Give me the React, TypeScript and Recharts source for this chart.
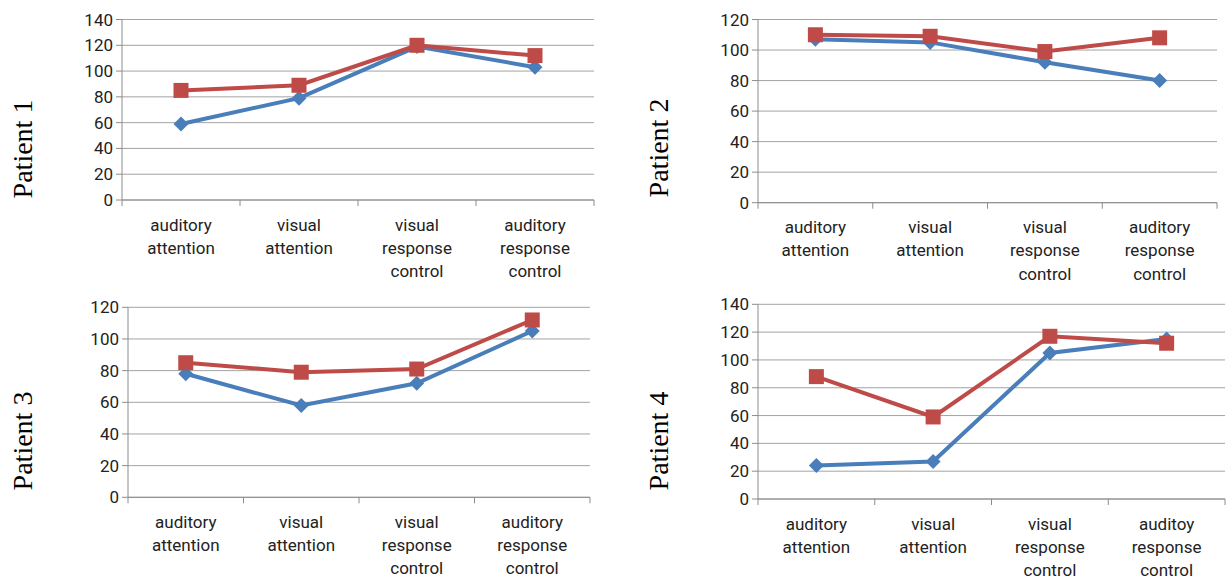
import React from 'react';
import { LineChart, Line, XAxis, YAxis, CartesianGrid } from 'recharts';

const categories = ['auditory attention', 'visual attention', 'visual response control', 'auditory response control'];
// the fourth panel has the typo from the original figure
const categoriesP4 = ['auditory attention', 'visual attention', 'visual response control', 'auditoy response control'];

const p1Blue = [59, 79, 119, 103];
const p1Red = [85, 89, 120, 112];
const p2Blue = [107, 105, 92, 80];
const p2Red = [110, 109, 99, 108];
const p3Blue = [78, 58, 72, 105];
const p3Red = [85, 79, 81, 112];
const p4Blue = [24, 27, 105, 115];
const p4Red = [88, 59, 117, 112];

const ticks140 = [0, 20, 40, 60, 80, 100, 120, 140];
const ticks120 = [0, 20, 40, 60, 80, 100, 120];

const BLUE = '#4a7ebb';
const RED = '#be4b48';
const GRID = '#a3a3a3';
const AXIS = '#8c8c8c';
const TEXT = '#222';
const FONT = 'Roboto, "Open Sans", sans-serif';

const Y_W = 50;
const X_H = 80;

const makeRows = (cats: string[], blue: number[], red: number[]) =>
  cats.map((c, i) => ({ cat: c, blue: blue[i], red: red[i] }));

const Diamond = (props: any) => {
  const { cx, cy } = props;
  if (cx == null || cy == null) return null;
  const r = 7.5;
  return <path d={`M${cx},${cy - r}L${cx + r},${cy}L${cx},${cy + r}L${cx - r},${cy}Z`} fill={BLUE} />;
};

const Square = (props: any) => {
  const { cx, cy } = props;
  if (cx == null || cy == null) return null;
  const s = 15;
  return <rect x={cx - s / 2} y={cy - s / 2} width={s} height={s} fill={RED} />;
};

const CategoryTick = (props: any) => {
  const { x, y, payload, index, band, count } = props;
  const words = String(payload.value).split(' ');
  return (
    <g>
      <line x1={x - band / 2} y1={y} x2={x - band / 2} y2={y + 6} stroke={AXIS} />
      {index === count - 1 && <line x1={x + band / 2} y1={y} x2={x + band / 2} y2={y + 6} stroke={AXIS} />}
      <text x={x} y={y + 30.5} textAnchor="middle" fill={TEXT} fontSize={17} fontFamily={FONT}>
        {words.map((w, i) => (
          <tspan key={i} x={x} dy={i === 0 ? 0 : 23.2}>{w}</tspan>
        ))}
      </text>
    </g>
  );
};

type PanelProps = {
  title: string;
  left: number;
  top: number;
  width: number;
  height: number;
  plot: { l: number; r: number; t: number; b: number };
  titleAt: { x: number; y: number };
  cats: string[];
  blue: number[];
  red: number[];
  ticks: number[];
};

const Panel = ({ title, left, top, width, height, plot, titleAt, cats, blue, red, ticks }: PanelProps) => {
  const margin = {
    top: plot.t - top,
    left: plot.l - left - Y_W,
    right: left + width - plot.r,
    bottom: Math.max(0, top + height - plot.b - X_H),
  };
  const band = (plot.r - plot.l) / cats.length;
  const rows = makeRows(cats, blue, red);
  return (
    <>
      <div style={{ position: 'absolute', left, top }}>
        <LineChart width={width} height={height} data={rows} margin={margin}>
          <CartesianGrid vertical={false} stroke={GRID} />
          <XAxis
            dataKey="cat"
            height={X_H}
            padding={{ left: band / 2, right: band / 2 }}
            tickSize={0}
            tickMargin={0}
            tickLine={false}
            axisLine={{ stroke: AXIS }}
            interval={0}
            tick={(p: any) => <CategoryTick {...p} band={band} count={cats.length} />}
          />
          <YAxis
            width={Y_W}
            domain={[0, ticks[ticks.length - 1]]}
            ticks={ticks}
            interval={0}
            tickSize={6}
            tickMargin={3}
            axisLine={{ stroke: AXIS }}
            tickLine={{ stroke: AXIS }}
            tick={{ fontSize: 17, fill: TEXT, fontFamily: FONT }}
          />
          <Line
            dataKey="blue"
            stroke={BLUE}
            strokeWidth={4}
            dot={<Diamond />}
            activeDot={false}
            isAnimationActive={false}
          />
          <Line
            dataKey="red"
            stroke={RED}
            strokeWidth={4}
            dot={<Square />}
            activeDot={false}
            isAnimationActive={false}
          />
        </LineChart>
      </div>
      <div
        style={{
          position: 'absolute',
          left: titleAt.x,
          top: titleAt.y,
          transform: 'translate(-50%, -50%) rotate(-90deg)',
          fontFamily: '"Liberation Serif", "Times New Roman", serif',
          fontSize: 28,
          lineHeight: 1,
          whiteSpace: 'nowrap',
          color: '#000',
        }}
      >
        {title}
      </div>
    </>
  );
};

export default function App() {
  return (
    <div style={{ position: 'absolute', left: 0, top: 0, width: 1226, height: 579, overflow: 'hidden', background: '#fff' }}>
      <Panel
        title="Patient 1"
        left={0}
        top={0}
        width={613}
        height={290}
        plot={{ l: 122, r: 594, t: 19.5, b: 200 }}
        titleAt={{ x: 23, y: 149 }}
        cats={categories}
        blue={p1Blue}
        red={p1Red}
        ticks={ticks140}
      />
      <Panel
        title="Patient 2"
        left={613}
        top={0}
        width={613}
        height={290}
        plot={{ l: 758, r: 1217, t: 19.5, b: 202.7 }}
        titleAt={{ x: 659, y: 148 }}
        cats={categories}
        blue={p2Blue}
        red={p2Red}
        ticks={ticks120}
      />
      <Panel
        title="Patient 3"
        left={0}
        top={290}
        width={613}
        height={289}
        plot={{ l: 128, r: 590, t: 307.3, b: 497.3 }}
        titleAt={{ x: 23, y: 441 }}
        cats={categories}
        blue={p3Blue}
        red={p3Red}
        ticks={ticks120}
      />
      <Panel
        title="Patient 4"
        left={613}
        top={290}
        width={613}
        height={289}
        plot={{ l: 758, r: 1225, t: 304.3, b: 499.3 }}
        titleAt={{ x: 659, y: 441 }}
        cats={categoriesP4}
        blue={p4Blue}
        red={p4Red}
        ticks={ticks140}
      />
    </div>
  );
}
